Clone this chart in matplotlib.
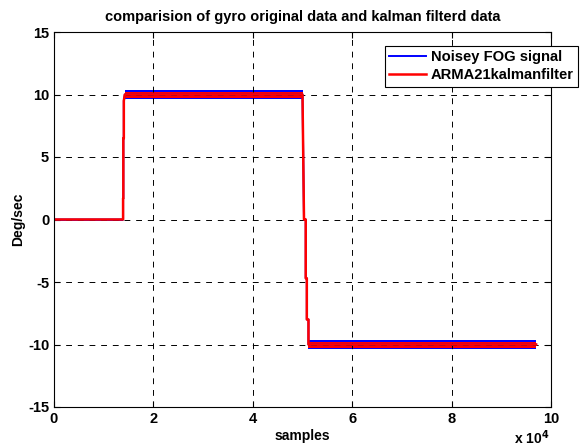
import numpy as np
import matplotlib.pyplot as plt

plt.rcParams['font.family'] = ['Liberation Sans', 'DejaVu Sans']
plt.rcParams['font.weight'] = 'bold'
plt.rcParams['axes.unicode_minus'] = False

# Центральная линия гироскопа: (отсчёт, град/с)
gyro_samples = [0, 13900, 13900, 13950, 13950, 14050, 14050, 14250,
                50000, 50050, 50300, 50650, 50650, 50870, 50870, 51200, 51200, 97000]
gyro_level = [0, 0, 1.7, 1.7, 6.5, 6.5, 9.5, 10.0,
              10.0, 8.3, 0.0, 0.0, -4.7, -4.7, -8.0, -8.0, -10.0, -10.0]

# Полки с шумом: начало, конец, уровень
plateau_start = [0, 14250, 51200]
plateau_end = [13900, 50000, 97000]
plateau_level = [0.0, 10.0, -10.0]
# Размах шума исходного сигнала и фильтра (низ, верх относительно уровня)
noise_lo = [-0.08, -0.38, -0.38]
noise_hi = [0.08, 0.35, 0.33]
filt_lo = [-0.06, -0.27, -0.27]
filt_hi = [0.06, 0.24, 0.24]

x_ticks = [0, 2, 4, 6, 8, 10]
y_ticks = [-15, -10, -5, 0, 5, 10, 15]

fig = plt.figure(figsize=(5.83, 4.46), dpi=100)
ax = fig.add_axes([54 / 583, 1 - 407 / 446, (551 - 54) / 583, (407 - 32) / 446])

# Исходный шумный сигнал
ax.plot(gyro_samples, gyro_level, color='#0000ff', lw=1.4, label='Noisey FOG signal')
for s, e, lv, lo, hi in zip(plateau_start, plateau_end, plateau_level, noise_lo, noise_hi):
    ax.fill_between([s, e], [lv + lo] * 2, [lv + hi] * 2, color='#0000ff', lw=0)

# Выход фильтра Калмана
ax.plot(gyro_samples, gyro_level, color='#ff0000', lw=1.8, label='ARMA21kalmanfilter')
for s, e, lv, lo, hi in zip(plateau_start, plateau_end, plateau_level, filt_lo, filt_hi):
    ax.fill_between([s, e], [lv + lo] * 2, [lv + hi] * 2, color='#ff0000', lw=0)

ax.set_xlim(0, 100000)
ax.set_ylim(-15, 15)
ax.set_xticks([t * 10000 for t in x_ticks])
ax.set_xticklabels([str(t) for t in x_ticks])
ax.set_yticks(y_ticks)
ax.tick_params(direction='in', top=True, right=True, labelsize=10.5, length=4, width=0.8)
for lab in ax.get_xticklabels() + ax.get_yticklabels():
    lab.set_fontweight('bold')
ax.grid(True, color='black', linestyle=(0, (6, 6)), linewidth=0.7)
for sp in ax.spines.values():
    sp.set_linewidth(0.8)

ax.set_title('comparision of gyro original data and kalman filterd data',
             fontsize=10.5, fontweight='bold', pad=8)
ax.set_xlabel('samples', fontsize=10, fontweight='bold', labelpad=2)
ax.set_ylabel('Deg/sec', fontsize=10, fontweight='bold', labelpad=2)
fig.text(514 / 583, 1 - 438 / 446, r'x 10$^{\mathbf{4}}$', fontsize=10,
         fontweight='bold', va='center')

leg = ax.legend(loc='upper left', bbox_to_anchor=(385 / 583, 1 - 46 / 446),
                bbox_transform=fig.transFigure, borderaxespad=0, fancybox=False,
                framealpha=1, edgecolor='black', fontsize=10.6, handlelength=2.5,
                handletextpad=0.3, borderpad=0.3, labelspacing=0.25)
leg.get_frame().set_linewidth(0.8)
for t in leg.get_texts():
    t.set_fontweight('bold')

fig.savefig('out.png', dpi=100)
